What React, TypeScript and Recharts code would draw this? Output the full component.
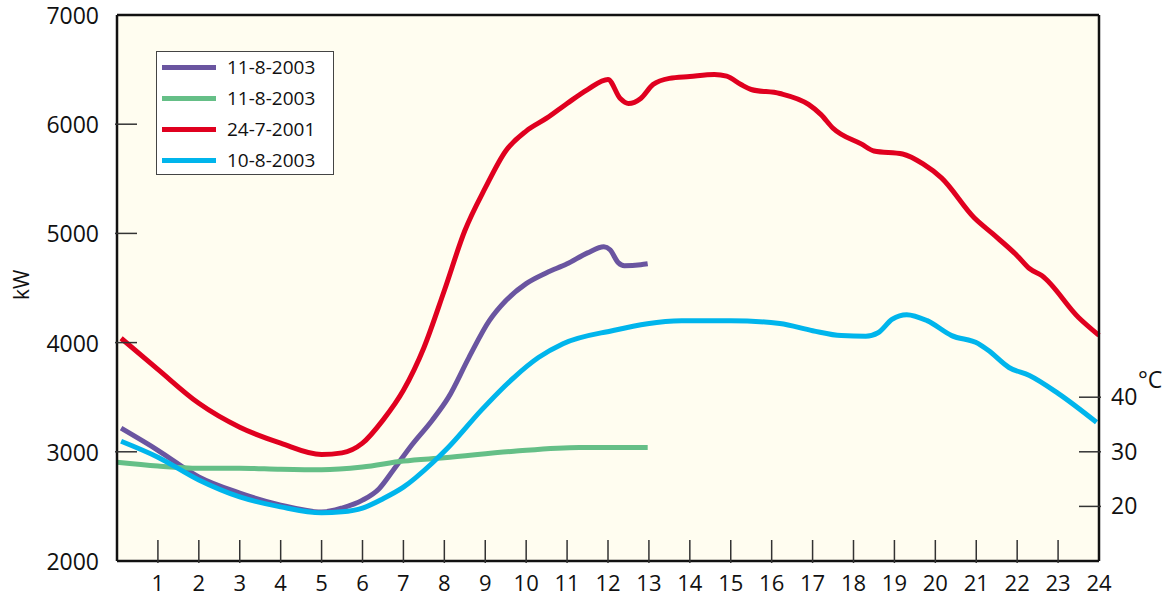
import { LineChart, Line, XAxis, YAxis, CartesianGrid, Legend } from 'recharts';

// hour of day
const hourTicks = [1, 2, 3, 4, 5, 6, 7, 8, 9, 10, 11, 12, 13, 14, 15, 16, 17, 18, 19, 20, 21, 22, 23, 24];
const kwTicks = [2000, 3000, 4000, 5000, 6000, 7000];
const tempTicks = [20, 30, 40];

// kW, 11-8-2003 (ends at 13h)
const load110803 = [
    { h: 0.1, v: 3216 }, { h: 1, v: 3014 }, { h: 2, v: 2770 }, { h: 3, v: 2622 }, { h: 4, v: 2512 },
    { h: 5, v: 2448 }, { h: 5.5, v: 2485 }, { h: 6, v: 2557 }, { h: 6.4, v: 2660 }, { h: 6.75, v: 2831 },
    { h: 7.2, v: 3060 }, { h: 7.7, v: 3287 }, { h: 8.1, v: 3498 }, { h: 8.6, v: 3863 }, { h: 9.1, v: 4201 },
    { h: 9.5, v: 4383 }, { h: 10, v: 4540 }, { h: 10.5, v: 4640 }, { h: 11, v: 4722 }, { h: 11.5, v: 4822 },
    { h: 11.9, v: 4877 }, { h: 12.05, v: 4850 }, { h: 12.25, v: 4732 }, { h: 12.4, v: 4704 }, { h: 12.8, v: 4713 },
    { h: 12.97, v: 4722 },
];

// °C, 11-8-2003
const temp110803 = [
    { h: 0, v: 28.1 }, { h: 1, v: 27.4 }, { h: 2, v: 27.0 }, { h: 3, v: 27.0 }, { h: 4, v: 26.8 },
    { h: 5, v: 26.7 }, { h: 6, v: 27.2 }, { h: 7, v: 28.3 }, { h: 8, v: 28.9 }, { h: 9.7, v: 30.1 },
    { h: 11.3, v: 30.8 }, { h: 12.97, v: 30.8 },
];

// kW, 24-7-2001
const load240701 = [
    { h: 0.1, v: 4040 }, { h: 1, v: 3755 }, { h: 2, v: 3444 }, { h: 3, v: 3225 }, { h: 4, v: 3079 },
    { h: 5, v: 2975 }, { h: 5.5, v: 2990 }, { h: 6, v: 3079 }, { h: 6.5, v: 3290 }, { h: 7, v: 3563 },
    { h: 7.5, v: 3953 }, { h: 8, v: 4477 }, { h: 8.5, v: 5024 }, { h: 9, v: 5416 }, { h: 9.5, v: 5755 },
    { h: 10, v: 5937 }, { h: 10.5, v: 6055 }, { h: 11, v: 6190 }, { h: 11.5, v: 6317 }, { h: 12, v: 6410 },
    { h: 12.3, v: 6235 }, { h: 12.5, v: 6190 }, { h: 12.8, v: 6236 }, { h: 13.1, v: 6363 }, { h: 13.5, v: 6420 },
    { h: 14, v: 6437 }, { h: 14.6, v: 6455 }, { h: 14.9, v: 6440 }, { h: 15.25, v: 6363 }, { h: 15.5, v: 6318 },
    { h: 16.2, v: 6281 }, { h: 16.9, v: 6181 }, { h: 17.2, v: 6090 }, { h: 17.5, v: 5963 }, { h: 18.2, v: 5817 },
    { h: 18.5, v: 5755 }, { h: 19.2, v: 5727 }, { h: 19.7, v: 5636 }, { h: 20.15, v: 5508 }, { h: 20.95, v: 5143 },
    { h: 21.4, v: 4997 }, { h: 22, v: 4796 }, { h: 22.3, v: 4678 }, { h: 22.6, v: 4614 }, { h: 23.5, v: 4230 },
    { h: 24, v: 4066 },
];

// kW, 10-8-2003
const load100803 = [
    { h: 0.1, v: 3097 }, { h: 1, v: 2951 }, { h: 2, v: 2742 }, { h: 3, v: 2587 }, { h: 4, v: 2496 },
    { h: 5, v: 2441 }, { h: 5.5, v: 2450 }, { h: 6, v: 2485 }, { h: 6.5, v: 2570 }, { h: 7, v: 2676 },
    { h: 7.7, v: 2895 }, { h: 8.1, v: 3041 }, { h: 8.9, v: 3379 }, { h: 9.7, v: 3680 }, { h: 10.3, v: 3863 },
    { h: 10.9, v: 3990 }, { h: 12.1, v: 4109 }, { h: 13.8, v: 4201 }, { h: 15, v: 4201 }, { h: 16.2, v: 4174 },
    { h: 17, v: 4109 }, { h: 17.7, v: 4064 }, { h: 18.3, v: 4058 }, { h: 18.6, v: 4090 }, { h: 18.95, v: 4215 },
    { h: 19.3, v: 4256 }, { h: 19.8, v: 4201 }, { h: 20.4, v: 4064 }, { h: 21.05, v: 3990 }, { h: 21.3, v: 3927 },
    { h: 21.8, v: 3772 }, { h: 22.3, v: 3699 }, { h: 23, v: 3535 }, { h: 23.94, v: 3270 },
];

// legend order as printed in the box
const legendOrder = ['#6a55a0', '#65bf87', '#e0001f', '#00b5ec'];

const FONT = '"Open Sans", sans-serif';
const TICK = '#333';

const BottomTick = ({ x, y, payload }: any) => (
    <g>
        {payload.value < 24 && <line x1={x} x2={x} y1={y} y2={y - 23} stroke={TICK} strokeWidth={1.5} />}
        <text x={x} y={y + 28} textAnchor="middle" fontSize={22} fontFamily={FONT} fill="#111">
            {payload.value}
        </text>
    </g>
);

const TopTick = ({ x, y, payload }: any) =>
    payload.value < 24 ? <line x1={x} x2={x} y1={y} y2={y + 22} stroke={TICK} strokeWidth={1.5} /> : <g />;

const LeftTick = ({ x, y, payload }: any) => (
    <g>
        {payload.value > 2000 && payload.value < 7000 && (
            <line x1={x} x2={x + 22} y1={y} y2={y} stroke={TICK} strokeWidth={1.5} />
        )}
        <text x={x - 16} y={y + 9} textAnchor="end" fontSize={23} fontFamily={FONT} fill="#111">
            {payload.value}
        </text>
    </g>
);

const RightTick = ({ x, y, payload }: any) => (
    <g>
        <line x1={x} x2={x - 22} y1={y} y2={y} stroke={TICK} strokeWidth={1.5} />
        <text x={x + 10} y={y + 8} textAnchor="start" fontSize={23} fontFamily={FONT} fill="#111">
            {payload.value}
        </text>
    </g>
);

const LegendBox = ({ payload }: any) => {
    const items = [...(payload || [])].sort(
        (a: any, b: any) => legendOrder.indexOf(a.color) - legendOrder.indexOf(b.color)
    );
    return (
        <div
            style={{
                width: 178,
                height: 124,
                background: '#fff',
                border: '1.5px solid #444',
                boxSizing: 'border-box',
            }}
        >
            {items.map((p: any, i: number) => (
                <div key={i} style={{ display: 'flex', alignItems: 'center', height: 31 }}>
                    <div style={{ width: 54, height: 5, background: p.color, marginLeft: 5, marginRight: 11 }} />
                    <span style={{ fontFamily: FONT, fontSize: 19, color: '#111', lineHeight: '31px' }}>{p.value}</span>
                </div>
            ))}
        </div>
    );
};

export default function App() {
    return (
        <div style={{ position: 'absolute', left: 0, top: 0, width: 1173, height: 598 }}>
            <LineChart width={1173} height={598} margin={{ top: 14, right: 0, bottom: 0, left: 0 }}>
                <CartesianGrid horizontal={false} vertical={false} fill="#fffdf0" />
                <XAxis
                    xAxisId={0}
                    dataKey="h"
                    type="number"
                    domain={[0, 24]}
                    ticks={hourTicks}
                    height={37}
                    tickSize={0}
                    tickLine={false}
                    axisLine={{ stroke: '#111', strokeWidth: 2.5 }}
                    tick={<BottomTick />}
                    interval={0}
                />
                <XAxis
                    xAxisId="top"
                    orientation="top"
                    dataKey="h"
                    type="number"
                    domain={[0, 24]}
                    ticks={hourTicks}
                    height={1}
                    tickSize={0}
                    tickLine={false}
                    axisLine={{ stroke: '#111', strokeWidth: 2.5 }}
                    tick={<TopTick />}
                    interval={0}
                />
                <YAxis
                    yAxisId="kw"
                    type="number"
                    domain={[2000, 7000]}
                    ticks={kwTicks}
                    width={117}
                    tickSize={0}
                    tickLine={false}
                    axisLine={{ stroke: '#111', strokeWidth: 2.5 }}
                    tick={<LeftTick />}
                    interval={0}
                    label={{
                        value: 'kW',
                        angle: -90,
                        position: 'insideLeft',
                        offset: 22,
                        dy: 12,
                        style: { fontFamily: FONT, fontSize: 21, fill: '#111' },
                    }}
                />
                <YAxis
                    yAxisId="c"
                    orientation="right"
                    type="number"
                    domain={[10, 110]}
                    ticks={tempTicks}
                    width={74}
                    tickSize={0}
                    tickLine={false}
                    axisLine={{ stroke: '#111', strokeWidth: 2.5 }}
                    tick={<RightTick />}
                    interval={0}
                    label={{
                        value: '°C',
                        position: 'insideTopLeft',
                        dx: 34,
                        dy: 352,
                        style: { fontFamily: FONT, fontSize: 23, fill: '#111' },
                    }}
                />
                <Legend
                    layout="vertical"
                    verticalAlign="middle"
                    align="center"
                    wrapperStyle={{ left: 156, top: 51, width: 'auto' }}
                    content={<LegendBox />}
                />
                <Line
                    yAxisId="kw"
                    data={load110803}
                    dataKey="v"
                    name="11-8-2003"
                    type="monotone"
                    stroke="#6a55a0"
                    strokeWidth={5}
                    dot={false}
                    isAnimationActive={false}
                />
                <Line
                    yAxisId="c"
                    data={temp110803}
                    dataKey="v"
                    name="11-8-2003"
                    type="monotone"
                    stroke="#65bf87"
                    strokeWidth={5}
                    dot={false}
                    isAnimationActive={false}
                />
                <Line
                    yAxisId="kw"
                    data={load240701}
                    dataKey="v"
                    name="24-7-2001"
                    type="monotone"
                    stroke="#e0001f"
                    strokeWidth={5}
                    dot={false}
                    isAnimationActive={false}
                />
                <Line
                    yAxisId="kw"
                    data={load100803}
                    dataKey="v"
                    name="10-8-2003"
                    type="monotone"
                    stroke="#00b5ec"
                    strokeWidth={5}
                    dot={false}
                    isAnimationActive={false}
                />
            </LineChart>
        </div>
    );
}
